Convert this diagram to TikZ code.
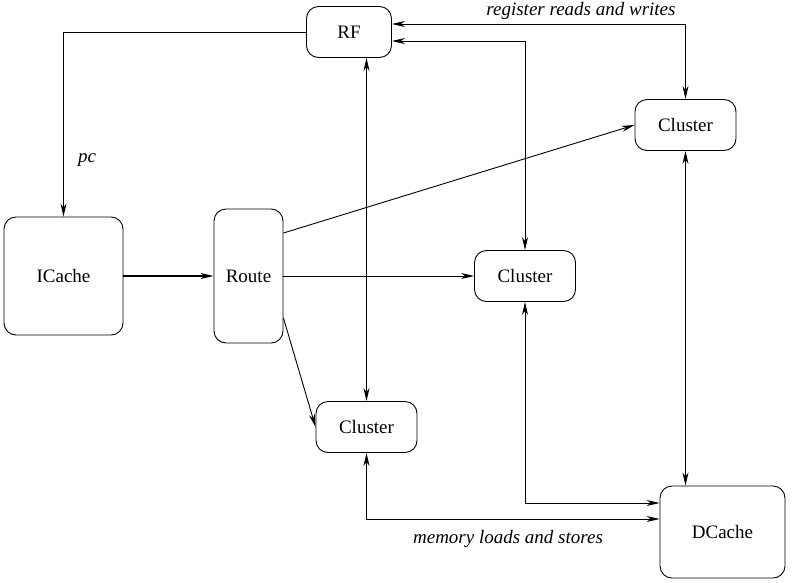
\documentclass[tikz,border=0pt]{standalone}
\usepackage{fontspec}
\setmainfont{Liberation Serif}
\usepackage{tikz}
\usetikzlibrary{positioning,arrows.meta,calc}
\tikzset{
  unitbox/.style={draw, rounded corners=12pt, line width=0.9pt, align=center, inner sep=0pt},
  clusterbox/.style={unitbox, minimum width=101pt, minimum height=51pt},
  onearrow/.style={-{Stealth[length=13pt, width=6pt, inset=4pt]}, line width=0.9pt},
  twoarrow/.style={{Stealth[length=13pt, width=6pt, inset=4pt]}-{Stealth[length=13pt, width=6pt, inset=4pt]}, line width=0.9pt},
  flowlabel/.style={font=\fontsize{19}{22}\selectfont\itshape}
}

\begin{document}
\begin{tikzpicture}[x=1pt, y=-1pt, every node/.style={font=\fontsize{19}{22}\selectfont}]
  \useasboundingbox (0,0) rectangle (792,582);
  % units
  \node[unitbox, minimum width=85pt, minimum height=51pt] (rf) at (349,32) {RF};
  \node[unitbox, minimum width=119pt, minimum height=118pt] (icache) at (63.5,276) {ICache};
  \node[unitbox, minimum width=69pt, minimum height=134pt] (route) at (248.5,276) {Route};
  \node[clusterbox] (clC) at (685.5,125) {Cluster};
  \node[clusterbox] (clB) at (525,276) {Cluster};
  \node[clusterbox] (clA) at (366.5,427) {Cluster};
  \node[unitbox, minimum width=125pt, minimum height=92pt] (dcache) at (722.5,532) {DCache};
  % fetch path
  \draw[onearrow] (rf.west) -| (icache.north);
  \draw[onearrow, line width=1.6pt] (icache.east) -- (route.west);
  \draw[onearrow] ([yshift=43pt]route.east) -- (clC.west);
  \draw[onearrow] (route.east) -- (clB.west);
  \draw[onearrow] ([yshift=-42pt]route.east) -- (clA.west);
  % register traffic
  \draw[twoarrow] ([yshift=8pt]rf.east) -| (clC.north);
  \draw[twoarrow] ([yshift=-9pt]rf.east) -| (clB.north);
  \draw[twoarrow] (clA.north |- rf.south) -- (clA.north);
  % memory traffic
  \draw[twoarrow] (clC.south) -- (clC.south |- dcache.north);
  \draw[twoarrow] (clB.south) |- ([yshift=29pt]dcache.west);
  \draw[twoarrow] (clA.south) |- ([yshift=13pt]dcache.west);
  % labels
  \node[flowlabel] (pclabel) at (87,160) {pc};
  \node[flowlabel] (reglabel) at (581,11) {register reads and writes};
  \node[flowlabel] (memlabel) at (508,539) {memory loads and stores};
\end{tikzpicture}
\end{document}
